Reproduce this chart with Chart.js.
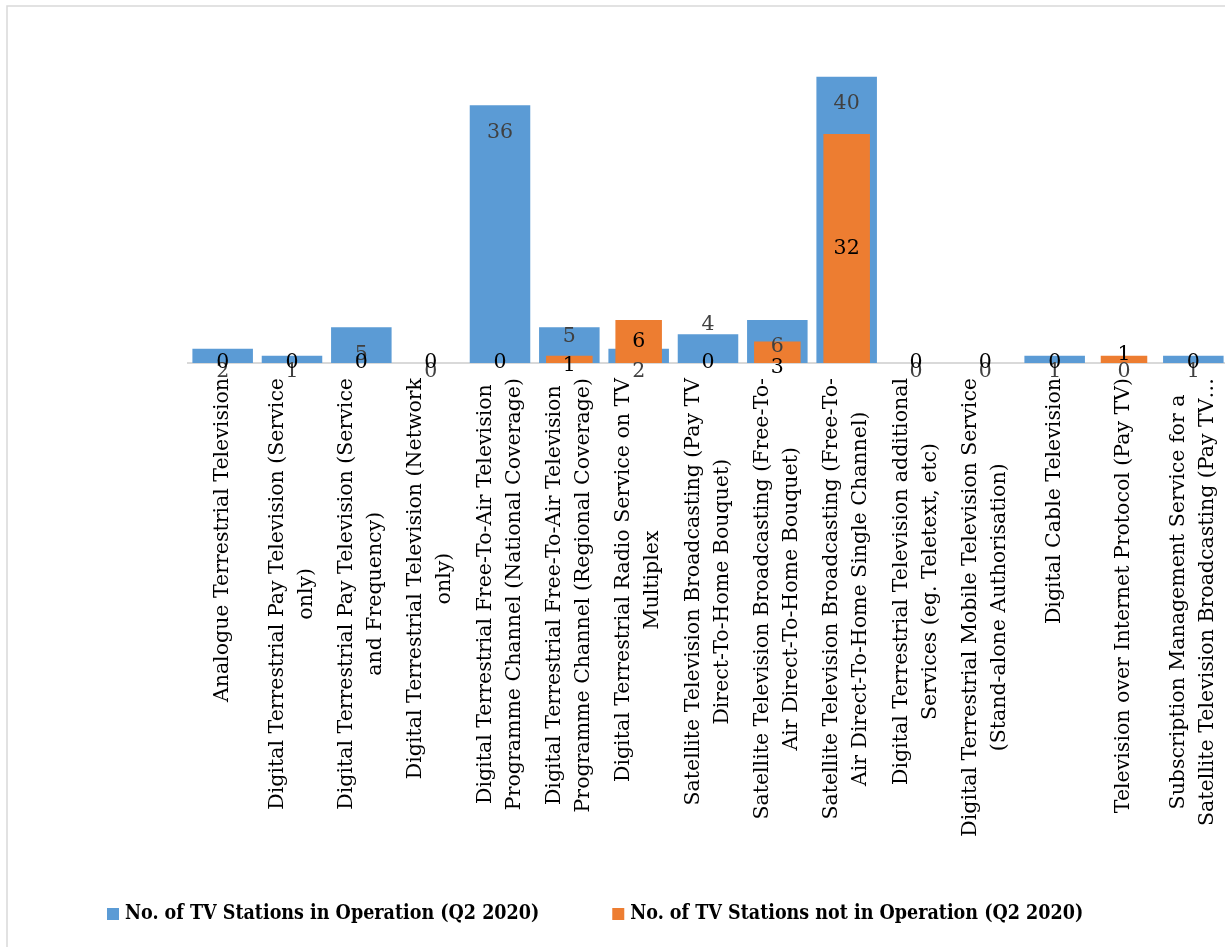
<!DOCTYPE html>
<html>
<head>
<meta charset="utf-8">
<title>TV Stations Q2 2020</title>
<script src="https://cdn.jsdelivr.net/npm/chart.js@4.4.0/dist/chart.umd.min.js"></script>
<style>
  html, body { margin: 0; padding: 0; background: #fff; overflow: hidden; }
  #wrap { position: absolute; left: 0; top: 0; }
</style>
</head>
<body>
<div id="wrap"><canvas id="stationsChart" width="1240" height="947"></canvas></div>
<script>
// Licence categories, already wrapped the way the axis shows them
const categories = [
    ['Analogue Terrestrial Television'],
    ['Digital Terrestrial Pay Television (Service', 'only)'],
    ['Digital Terrestrial Pay Television (Service', 'and Frequency)'],
    ['Digital Terrestrial Television (Network', 'only)'],
    ['Digital Terrestrial Free-To-Air Television', 'Programme Channel (National Coverage)'],
    ['Digital Terrestrial Free-To-Air Television', 'Programme Channel (Regional Coverage)'],
    ['Digital Terrestrial Radio Service on TV', 'Multiplex'],
    ['Satellite Television Broadcasting (Pay TV', 'Direct-To-Home Bouquet)'],
    ['Satellite Television Broadcasting (Free-To-', 'Air Direct-To-Home Bouquet)'],
    ['Satellite Television Broadcasting (Free-To-', 'Air Direct-To-Home Single Channel)'],
    ['Digital Terrestrial Television additional', 'Services (eg. Teletext, etc)'],
    ['Digital Terrestrial Mobile Television Service', '(Stand-alone Authorisation)'],
    ['Digital Cable Television'],
    ['Television over Internet Protocol (Pay TV)'],
    ['Subscription Management Service for a', 'Satellite Television Broadcasting (Pay TV\u2026']
];

const inOperation = [2, 1, 5, 0, 36, 5, 2, 4, 6, 40, 0, 0, 1, 0, 1];
const notInOperation = [0, 0, 0, 0, 0, 1, 6, 0, 3, 32, 0, 0, 0, 1, 0];

const seriesNames = [
    'No. of TV Stations in Operation (Q2 2020)',
    'No. of TV Stations not in Operation (Q2 2020)'
];

const yAxisMax = 44;

// A few value labels sit off their usual spot (pixels, +down)
const labelNudge = [
    { 5: -18, 7: -37 },
    { 5: 6, 8: 15, 13: -5 }
];

const SERIF = '"DejaVu Serif", "Liberation Serif", serif';
const SERIF_NARROW = '"DejaVu Serif Condensed", "DejaVu Serif", "Liberation Serif", serif';
const frameColor = '#D9D9D9';

// Largest font size (up to maxSize) that keeps text within width
const fitFont = (ctx, text, width, prefix, family, maxSize) => {
    let size = maxSize;
    ctx.font = `${prefix} ${size}px ${family}`;
    while (size > 8 && ctx.measureText(text).width > width) {
        size -= 0.5;
        ctx.font = `${prefix} ${size}px ${family}`;
    }
    return ctx.font;
};

// Outer frame of the chart
const framePlugin = {
    id: 'frame',
    beforeDraw(chart) {
        const ctx = chart.ctx;
        ctx.save();
        ctx.strokeStyle = frameColor;
        ctx.lineWidth = 1.5;
        ctx.strokeRect(7, 6, chart.width + 20, chart.height + 20);
        ctx.restore();
    }
};

// Rotated, centred multi-line category names under the axis
const categoryLabelsPlugin = {
    id: 'categoryLabels',
    afterDraw(chart) {
        const ctx = chart.ctx;
        const xScale = chart.scales.x;
        const top = chart.chartArea.bottom + 15;
        const lineHeight = 29;
        ctx.save();
        ctx.font = '20.5px ' + SERIF;
        ctx.fillStyle = '#000';
        ctx.textAlign = 'center';
        ctx.textBaseline = 'middle';
        categories.forEach((lines, i) => {
            const x = xScale.getPixelForValue(i);
            const widest = Math.max(...lines.map(l => ctx.measureText(l).width));
            ctx.save();
            ctx.translate(x, top);
            ctx.rotate(-Math.PI / 2);
            lines.forEach((line, j) => {
                ctx.fillText(line, -widest / 2, (j - (lines.length - 1) / 2) * lineHeight);
            });
            ctx.restore();
        });
        ctx.restore();
    }
};

// Value labels: blue ones near the bar top, orange ones in the middle
const valueLabelsPlugin = {
    id: 'valueLabels',
    afterDatasetsDraw(chart) {
        const ctx = chart.ctx;
        ctx.save();
        ctx.font = '20.5px ' + SERIF;
        ctx.textAlign = 'center';
        ctx.textBaseline = 'middle';
        [0, 1].forEach(di => {
            const meta = chart.getDatasetMeta(di);
            const values = chart.data.datasets[di].data;
            ctx.fillStyle = di === 0 ? '#404040' : '#000';
            meta.data.forEach((bar, i) => {
                let y;
                if (di === 0) {
                    y = Math.min(bar.y + 27, bar.base + 9);
                } else {
                    y = values[i] === 0 ? bar.base : (bar.y + bar.base) / 2;
                }
                y += labelNudge[di][i] || 0;
                ctx.fillText(String(values[i]), bar.x, y);
            });
        });
        ctx.restore();
    }
};

// Legend along the bottom
const legendPlugin = {
    id: 'bottomLegend',
    afterDraw(chart) {
        const ctx = chart.ctx;
        const y = 914;
        let x = 107;
        ctx.save();
        fitFont(ctx, seriesNames[0], 422, 'bold', SERIF_NARROW, 23);
        ctx.textBaseline = 'middle';
        ctx.textAlign = 'left';
        chart.data.datasets.forEach(ds => {
            ctx.fillStyle = ds.backgroundColor;
            ctx.fillRect(x, y - 6, 12, 12);
            ctx.fillStyle = '#000';
            ctx.fillText(ds.label, x + 18, y);
            x += 18 + ctx.measureText(ds.label).width + 73;
        });
        ctx.restore();
    }
};

const ctx = document.getElementById('stationsChart').getContext('2d');

new Chart(ctx, {
    type: 'bar',
    data: {
        labels: categories,
        datasets: [{
            label: seriesNames[0],
            data: inOperation,
            backgroundColor: '#5B9BD5',
            grouped: false,
            categoryPercentage: 1,
            barPercentage: 0.873,
            order: 2
        }, {
            label: seriesNames[1],
            data: notInOperation,
            backgroundColor: '#ED7D31',
            grouped: false,
            categoryPercentage: 1,
            barPercentage: 0.671,
            order: 1
        }]
    },
    options: {
        responsive: false,
        animation: false,
        devicePixelRatio: 1,
        layout: {
            padding: { top: 48, left: 188, right: 12, bottom: 0 }
        },
        plugins: {
            legend: { display: false },
            tooltip: { enabled: false }
        },
        scales: {
            x: {
                grid: { display: false },
                border: { color: frameColor, width: 2 },
                ticks: { display: false },
                afterFit: scale => { scale.height = 947 - 363; }
            },
            y: {
                display: false,
                min: 0,
                max: yAxisMax
            }
        }
    },
    plugins: [framePlugin, valueLabelsPlugin, categoryLabelsPlugin, legendPlugin]
});
</script>
</body>
</html>
